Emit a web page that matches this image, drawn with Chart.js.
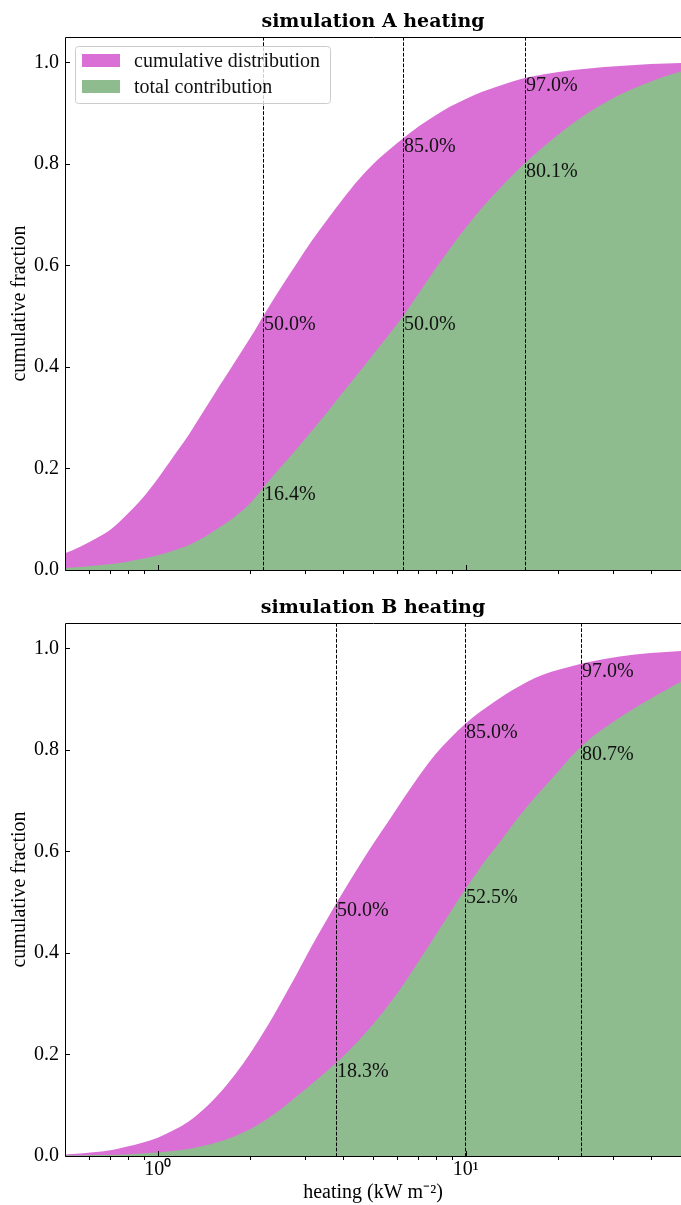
<!DOCTYPE html>
<html>
<head>
<meta charset="utf-8">
<script src="https://cdn.jsdelivr.net/npm/chart.js@4.4.1/dist/chart.umd.min.js"></script>
<style>
  html, body { margin: 0; padding: 0; background: #ffffff; }
  body { width: 681px; height: 1205px; position: relative; overflow: hidden; }
  canvas { position: absolute; left: 0; }
  #panelA { top: 0; }
  #panelB { top: 595px; }
</style>
</head>
<body>
<canvas id="panelA" width="681" height="595"></canvas>
<canvas id="panelB" width="681" height="610"></canvas>
<script>
// heating bin positions (kW m^-2), log-spaced
const heating = [0.50, 0.56, 0.63, 0.71, 0.79, 0.89, 1.00, 1.12, 1.26, 1.41,
                 1.58, 1.78, 2.00, 2.24, 2.51, 2.82, 3.16, 3.55, 3.98, 4.47,
                 5.01, 5.62, 6.31, 7.08, 7.94, 8.91, 10.0, 11.2, 12.6, 14.1,
                 15.8, 17.8, 20.0, 22.4, 25.1, 28.2, 31.6, 35.5, 39.8, 44.7, 50.1];

// simulation A
const cumulativeA = [0.033, 0.046, 0.062, 0.082, 0.108, 0.141, 0.180, 0.222, 0.266, 0.313,
                     0.361, 0.410, 0.458, 0.508, 0.556, 0.603, 0.648, 0.690, 0.730, 0.768,
                     0.800, 0.827, 0.852, 0.875, 0.895, 0.913, 0.928, 0.941, 0.952, 0.962,
                     0.970, 0.976, 0.981, 0.985, 0.988, 0.991, 0.993, 0.995, 0.997, 0.998, 0.999];
const contributionA = [0.004, 0.006, 0.009, 0.012, 0.016, 0.022, 0.029, 0.038, 0.049, 0.064,
                       0.083, 0.105, 0.132, 0.168, 0.203, 0.238, 0.274, 0.311, 0.349, 0.387,
                       0.425, 0.463, 0.503, 0.547, 0.592, 0.634, 0.674, 0.711, 0.745, 0.776,
                       0.805, 0.833, 0.858, 0.881, 0.902, 0.920, 0.936, 0.950, 0.962, 0.973, 0.982];
const markerHeatingA = [2.19, 6.26, 15.6];
const markerCumulativeA = [50.0, 85.0, 97.0];
const markerContributionA = [16.4, 50.0, 80.1];

// simulation B
const cumulativeB = [0.003, 0.005, 0.008, 0.012, 0.018, 0.026, 0.036, 0.050, 0.068, 0.092,
                     0.122, 0.160, 0.203, 0.250, 0.302, 0.357, 0.413, 0.467, 0.518, 0.568,
                     0.615, 0.660, 0.706, 0.750, 0.790, 0.823, 0.852, 0.876, 0.898, 0.917,
                     0.934, 0.948, 0.958, 0.966, 0.973, 0.979, 0.984, 0.988, 0.991, 0.993, 0.995];
const contributionB = [0.001, 0.001, 0.002, 0.002, 0.003, 0.005, 0.007, 0.010, 0.014, 0.020,
                       0.028, 0.039, 0.053, 0.071, 0.092, 0.117, 0.142, 0.168, 0.195, 0.226,
                       0.260, 0.298, 0.340, 0.386, 0.433, 0.480, 0.527, 0.570, 0.610, 0.650,
                       0.688, 0.724, 0.758, 0.792, 0.820, 0.843, 0.864, 0.883, 0.901, 0.918, 0.935];
const markerHeatingB = [3.80, 9.92, 23.6];
const markerCumulativeB = [50.0, 85.0, 97.0];
const markerContributionB = [18.3, 52.5, 80.7];

// axis ticks
const xMajorTicks = [1, 10];
const xMajorLabels = ['10⁰', '10¹'];
const xMinorTicks = [0.6, 0.7, 0.8, 0.9, 2, 3, 4, 5, 6, 7, 8, 9, 20, 30, 40];
const yTickValues = [0, 0.2, 0.4, 0.6, 0.8, 1.0];

const SERIF = '"Liberation Serif", "Times New Roman", serif';
const ORCHID = '#DA70D6';
const SEAGREEN = '#8FBC8F';

const panelDecor = {
  id: 'panelDecor',
  afterDatasetsDraw(chart, args, opts) {
    const ctx = chart.ctx;
    const area = chart.chartArea;
    const xs = chart.scales.x, ys = chart.scales.y;
    ctx.save();

    // quantile markers
    ctx.strokeStyle = '#000';
    ctx.lineWidth = 1;
    ctx.setLineDash([3.7, 1.6]);
    opts.markerX.forEach((h) => {
      const px = Math.round(xs.getPixelForValue(h)) + 0.5;
      ctx.beginPath();
      ctx.moveTo(px, area.top);
      ctx.lineTo(px, area.bottom);
      ctx.stroke();
    });
    ctx.setLineDash([]);
    ctx.fillStyle = '#111';
    ctx.font = '20px ' + SERIF;
    ctx.textAlign = 'left';
    ctx.textBaseline = 'alphabetic';
    opts.markerX.forEach((h, i) => {
      const px = Math.round(xs.getPixelForValue(h)) + 1;
      [opts.markerCum[i], opts.markerContrib[i]].forEach((pct) => {
        const py = ys.getPixelForValue(pct / 100);
        ctx.fillText(pct.toFixed(1) + '%', px, py + 13.5);
      });
    });

    // frame
    ctx.strokeStyle = '#000';
    ctx.lineWidth = 1;
    ctx.beginPath();
    ctx.moveTo(area.left + 0.5, area.bottom + 0.5);
    ctx.lineTo(area.left + 0.5, area.top + 0.5);
    ctx.lineTo(area.right + 0.5, area.top + 0.5);
    ctx.lineTo(area.right + 0.5, area.bottom + 0.5);
    ctx.closePath();
    ctx.stroke();

    // ticks
    ctx.beginPath();
    yTickValues.forEach((v) => {
      const py = Math.round(ys.getPixelForValue(v)) + 0.5;
      ctx.moveTo(area.left + 0.5, py);
      ctx.lineTo(area.left + 5, py);
    });
    xMajorTicks.forEach((v) => {
      const px = Math.round(xs.getPixelForValue(v)) + 0.5;
      ctx.moveTo(px, area.bottom + 0.5);
      ctx.lineTo(px, area.bottom - 5);
    });
    xMinorTicks.forEach((v) => {
      const px = Math.round(xs.getPixelForValue(v)) + 0.5;
      ctx.moveTo(px, area.bottom + 0.5);
      ctx.lineTo(px, area.bottom + 4);
    });
    ctx.stroke();

    // legend
    if (opts.legend) {
      const bx = area.left + 10.5, by = area.top + 9.5, bw = 255, bh = 57;
      ctx.beginPath();
      ctx.roundRect(bx, by, bw, bh, 3);
      ctx.fillStyle = 'rgba(255,255,255,0.8)';
      ctx.fill();
      ctx.strokeStyle = '#cccccc';
      ctx.stroke();
      const entries = chart.data.datasets.slice().sort((a, b) => b.order - a.order);
      entries.forEach((ds, i) => {
        ctx.fillStyle = ds.backgroundColor;
        ctx.fillRect(area.left + 17, area.top + 17 + i * 26, 38, 13);
        ctx.fillStyle = '#111';
        ctx.font = '20px ' + SERIF;
        ctx.fillText(ds.label, area.left + 69, area.top + 29.5 + i * 26);
      });
    }

    // panel title
    ctx.fillStyle = '#000';
    ctx.font = 'bold 19px "DejaVu Serif", serif';
    ctx.textAlign = 'center';
    ctx.fillText(opts.title, (area.left + area.right) / 2, area.top - 10);
    ctx.restore();
  }
};

function makePanel(canvasId, cfg) {
  const pts = (arr) => heating.map((h, i) => ({ x: h, y: arr[i] }));
  return new Chart(document.getElementById(canvasId), {
    type: 'line',
    data: {
      datasets: [
        { label: 'cumulative distribution', data: pts(cfg.cum), backgroundColor: ORCHID,
          borderWidth: 0, pointRadius: 0, fill: 'origin', order: 2,
          cubicInterpolationMode: 'monotone' },
        { label: 'total contribution', data: pts(cfg.contrib), backgroundColor: SEAGREEN,
          borderWidth: 0, pointRadius: 0, fill: 'origin', order: 1,
          cubicInterpolationMode: 'monotone' }
      ]
    },
    options: {
      responsive: false,
      animation: false,
      devicePixelRatio: 1,
      layout: { padding: { top: cfg.padTop, left: 0, right: 0, bottom: 0 } },
      plugins: {
        legend: { display: false },
        tooltip: { enabled: false },
        panelDecor: {
          title: cfg.title, legend: cfg.legend,
          markerX: cfg.markerX, markerCum: cfg.markerCum, markerContrib: cfg.markerContrib
        }
      },
      scales: {
        x: {
          type: 'logarithmic', min: 0.5, max: 50,
          grid: { display: false, drawTicks: false },
          border: { display: false },
          afterBuildTicks(scale) {
            scale.ticks = xMajorTicks.map((v) => ({ value: v, major: true }));
          },
          ticks: {
            autoSkip: false, maxRotation: 0, padding: 2, color: '#000',
            font: { family: SERIF, size: 20 },
            callback: (v) => cfg.xLabels ? xMajorLabels[xMajorTicks.indexOf(v)] : ''
          },
          title: {
            display: cfg.xLabels, text: 'heating (kW m⁻²)', color: '#000',
            font: { family: SERIF, size: 20 }, padding: { top: 0, bottom: 0 }
          },
          afterFit(scale) { scale.height = cfg.xHeight; }
        },
        y: {
          min: 0, max: 1.05,
          grid: { display: false, drawTicks: false },
          border: { display: false },
          afterBuildTicks(scale) {
            scale.ticks = yTickValues.map((v) => ({ value: v }));
          },
          ticks: {
            padding: 6, color: '#000',
            font: { family: SERIF, size: 20 },
            callback: (v) => Number(v).toFixed(1)
          },
          title: {
            display: true, text: 'cumulative fraction', color: '#000',
            font: { family: SERIF, size: 20 }, padding: { top: 8, bottom: 0 }
          },
          afterFit(scale) { scale.width = 65; }
        }
      }
    },
    plugins: [panelDecor]
  });
}

makePanel('panelA', {
  title: 'simulation A heating', legend: true, cum: cumulativeA, contrib: contributionA,
  markerX: markerHeatingA, markerCum: markerCumulativeA, markerContrib: markerContributionA,
  padTop: 37, xHeight: 25, xLabels: false
});
makePanel('panelB', {
  title: 'simulation B heating', legend: false, cum: cumulativeB, contrib: contributionB,
  markerX: markerHeatingB, markerCum: markerCumulativeB, markerContrib: markerContributionB,
  padTop: 28, xHeight: 49, xLabels: true
});
</script>
</body>
</html>
